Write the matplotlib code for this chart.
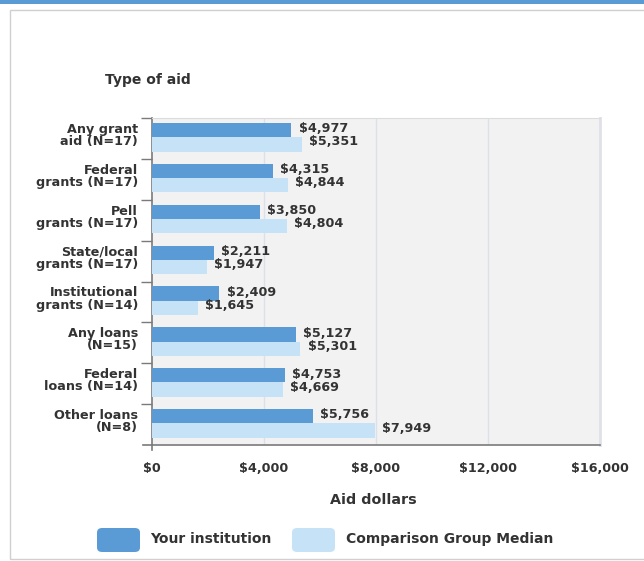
import matplotlib
matplotlib.use("Agg")
import matplotlib.pyplot as plt
from matplotlib.patches import Rectangle, FancyBboxPatch
from matplotlib.lines import Line2D
import numpy as np

categories = ["Any grant\naid (N=17)", "Federal\ngrants (N=17)", "Pell\ngrants (N=17)",
              "State/local\ngrants (N=17)", "Institutional\ngrants (N=14)", "Any loans\n(N=15)",
              "Federal\nloans (N=14)", "Other loans\n(N=8)"]
your_inst = [4977, 4315, 3850, 2211, 2409, 5127, 4753, 5756]
comparison = [5351, 4844, 4804, 1947, 1645, 5301, 4669, 7949]
xticks = [0, 4000, 8000, 12000, 16000]
xtick_labels = ["$0", "$4,000", "$8,000", "$12,000", "$16,000"]
series_names = ["Your institution", "Comparison Group Median"]

DARK = "#5b9bd5"
LIGHT = "#c6e2f7"
TXT = "#333333"
AXC = "#7a7a7a"
FONT = "DejaVu Sans"

W, H = 644, 561
fig = plt.figure(figsize=(W / 100, H / 100), dpi=100)
fig.patch.set_facecolor("white")

def fx(px):
    return px / W

def fy(py):
    return 1 - py / H

# top band and outer border
fig.patches.append(Rectangle((0, fy(4)), 1, 4 / H, transform=fig.transFigure,
                             facecolor=DARK, edgecolor="none"))
fig.patches.append(Rectangle((fx(10), fy(559)), fx(660) - fx(10), fy(10) - fy(559),
                             transform=fig.transFigure, facecolor="none",
                             edgecolor="#d0d0d0", linewidth=1.0))

left, right, top, bottom = 152, 600, 118, 445
ax = fig.add_axes([fx(left), fy(bottom), fx(right) - fx(left), fy(top) - fy(bottom)])
ax.set_facecolor("#f2f2f2")

n = len(categories)
centers = np.arange(n) + 0.5
h = 0.35
ax.barh(centers - 0.03 - h / 2, your_inst, height=h, color=DARK, edgecolor="none", zorder=3)
ax.barh(centers - 0.03 + h / 2, comparison, height=h, color=LIGHT, edgecolor="none", zorder=3)

for c, v in zip(centers, your_inst):
    ax.text(v + 260, c - 0.03 - h / 2 - 0.03, f"${v:,}", va="center", ha="left",
            fontsize=9.2, fontweight="bold", color=TXT, family=FONT, zorder=4)
for c, v in zip(centers, comparison):
    ax.text(v + 260, c - 0.03 + h / 2 - 0.06, f"${v:,}", va="center", ha="left",
            fontsize=9.2, fontweight="bold", color=TXT, family=FONT, zorder=4)

ax.set_xlim(0, 16000)
ax.set_ylim(n, 0)
ax.set_xticks(xticks)
ax.set_xticklabels(xtick_labels)
for x in xticks[1:-1]:
    ax.axvline(x, color="#dde0ea", linewidth=1.0, zorder=1)

ax.set_yticks(np.arange(n))
ax.set_yticklabels([])
ax.set_yticks(centers - 0.1, minor=True)
ax.set_yticklabels(categories, minor=True, fontsize=9.2, fontweight="bold",
                   color=TXT, family=FONT, linespacing=0.92)
ax.tick_params(axis="y", which="minor", length=0, pad=10)
ax.tick_params(axis="y", which="major", length=8, color=AXC, width=1)
ax.tick_params(axis="x", length=0, labelsize=9.2, labelcolor=TXT, pad=12)
for lab in ax.get_xticklabels():
    lab.set_fontweight("bold")
    lab.set_family(FONT)

ax.spines["top"].set_color("#dcdcdc")
ax.spines["right"].set_color("#e0e0ea")
ax.spines["right"].set_linewidth(2)
ax.spines["left"].set_color(AXC)
ax.spines["bottom"].set_color(AXC)
ax.spines["left"].set_linewidth(1.2)
ax.spines["bottom"].set_linewidth(1.2)

# extension of the bottom axis line to the left and small tick at zero
fig.lines.append(Line2D([fx(143), fx(152)], [fy(bottom), fy(bottom)], transform=fig.transFigure,
                        color=AXC, linewidth=1.2))
fig.lines.append(Line2D([fx(152), fx(152)], [fy(bottom), fy(bottom + 5)], transform=fig.transFigure,
                        color=AXC, linewidth=1.2))

fig.text(fx(105), fy(80), "Type of aid", ha="left", va="center", fontsize=10,
         fontweight="bold", color=TXT, family=FONT)
fig.text(fx(373), fy(500), "Aid dollars", ha="center", va="center", fontsize=10.3,
         fontweight="bold", color=TXT, family=FONT)

# legend
for (x0, x1), col, name, tx in [((97, 140), DARK, series_names[0], 150),
                                ((292, 335), LIGHT, series_names[1], 346)]:
    fig.patches.append(FancyBboxPatch((fx(x0), fy(552)), fx(x1) - fx(x0), fy(528) - fy(552),
                                      boxstyle="round,pad=0,rounding_size=0.008",
                                      transform=fig.transFigure, facecolor=col,
                                      edgecolor="none"))
    fig.text(fx(tx), fy(539), name, ha="left", va="center", fontsize=10,
             fontweight="bold", color=TXT, family=FONT)

fig.savefig("out.png", dpi=100)
